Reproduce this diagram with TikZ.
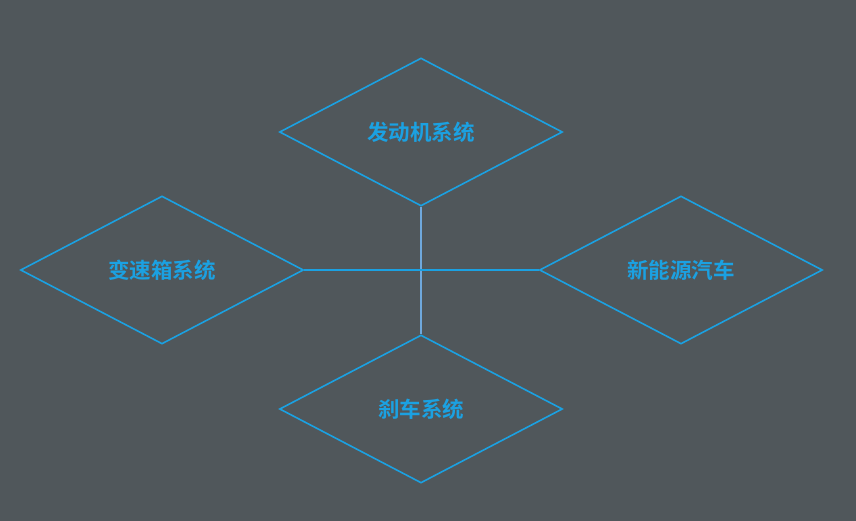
\documentclass[tikz,border=0pt]{standalone}
\usepackage{fontspec}
\newfontfamily\cjk{Noto Sans CJK SC Bold}
\usetikzlibrary{shapes.geometric}
\definecolor{bgcol}{HTML}{50575B}
\definecolor{linecol}{HTML}{1BA1E2}
\definecolor{stemcol}{HTML}{6FA8DC}
\tikzset{
  sysbox/.style={diamond, draw=linecol, line width=1.6pt, minimum width=283pt,
    minimum height=148pt, inner sep=0pt, aspect=1.9, text=linecol,
    font=\cjk\fontsize{21.5}{21.5}\selectfont},
}
\begin{document}
\begin{tikzpicture}[x=1pt,y=-1pt]
	\fill [bgcol] (0,0) rectangle (856,521);
	\useasboundingbox (0,0) rectangle (856,521);
	%Rombi
	\node [sysbox] (engine) at (421,132) {发动机系统};
	\node [sysbox] (gearbox) at (162,270) {变速箱系统};
	\node [sysbox] (newenergy) at (681,270) {新能源汽车};
	\node [sysbox] (brake) at (421,409) {刹车系统};
	%Collegamenti
	\draw [stemcol, line width=1.6pt] (engine.south) -- (brake.north);
	\draw [linecol, line width=1.6pt] (gearbox.east) -- (newenergy.west);
\end{tikzpicture}
\end{document}
